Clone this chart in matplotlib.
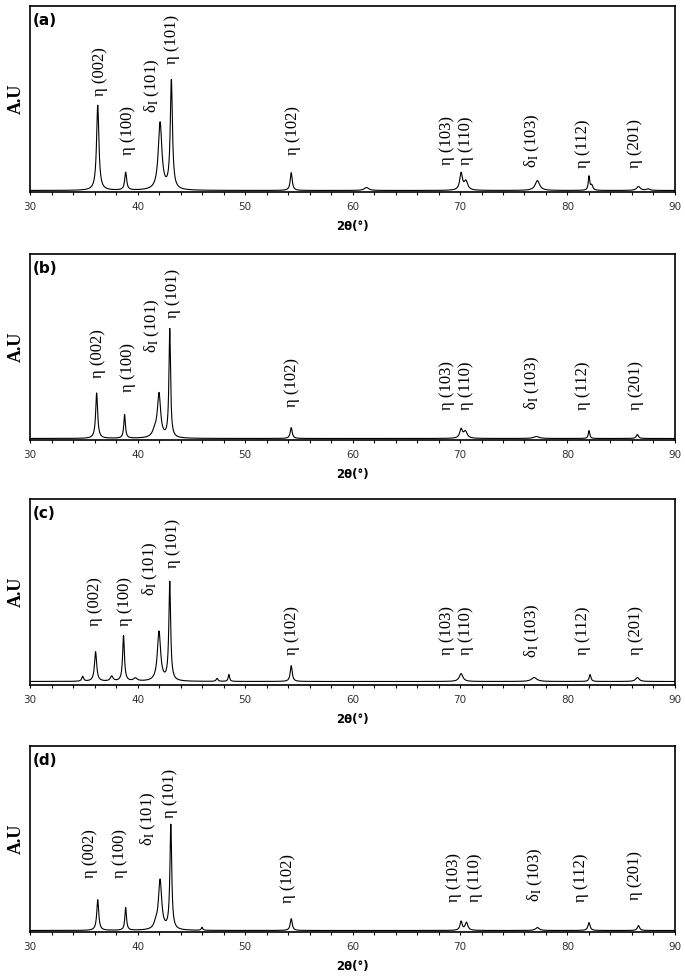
import numpy as np
import matplotlib
matplotlib.use("Agg")
import matplotlib.pyplot as plt

plt.rcParams['mathtext.fontset'] = 'stix'

# peak positions (2theta), heights (a.u.) and half widths
pos_a = [36.3, 38.9, 42.1, 43.15, 54.3, 61.3, 70.1, 70.55, 77.2, 82.0, 82.25, 86.6, 87.5]
hgt_a = [86, 18, 68, 110, 18, 3, 17, 9, 10, 14, 5, 4, 1.5]
wid_a = [0.13, 0.11, 0.2, 0.12, 0.11, 0.25, 0.15, 0.2, 0.25, 0.08, 0.12, 0.2, 0.2]

pos_b = [36.2, 38.8, 41.6, 42.0, 43.0, 54.3, 70.1, 70.5, 77.1, 82.0, 86.5]
hgt_b = [46, 24, 6, 44, 110, 11, 9, 7, 2, 8, 4]
wid_b = [0.11, 0.09, 0.25, 0.18, 0.09, 0.11, 0.15, 0.2, 0.3, 0.08, 0.12]

pos_c = [34.9, 36.1, 37.6, 38.7, 39.8, 42.0, 43.0, 47.4, 48.5, 54.3, 70.1, 76.9, 82.1, 86.5]
hgt_c = [5, 30, 5, 46, 3, 50, 100, 3, 7, 16, 8, 4, 7, 4]
wid_c = [0.1, 0.12, 0.15, 0.1, 0.2, 0.18, 0.1, 0.1, 0.08, 0.11, 0.2, 0.3, 0.1, 0.2]

pos_d = [36.3, 38.9, 41.7, 42.1, 43.1, 46.0, 54.3, 70.1, 70.6, 77.2, 82.0, 86.6]
hgt_d = [31, 23, 5, 50, 106, 3, 12, 9, 8, 3, 8, 5]
wid_d = [0.11, 0.09, 0.2, 0.18, 0.1, 0.08, 0.11, 0.12, 0.15, 0.2, 0.12, 0.12]

background = [1.5, 1.5, 3.5, 1.5]

peak_names = ['η (002)', 'η (100)', r'δ$_{\rm I}$ (101)', 'η (101)',
              'η (102)', 'η (103)', 'η (110)', r'δ$_{\rm I}$ (103)',
              'η (112)', 'η (201)']

lab_x = [
    [36.5, 39.1, 41.4, 43.2, 54.5, 68.8, 70.6, 76.7, 81.4, 86.3],
    [36.3, 39.1, 41.4, 43.3, 54.4, 68.8, 70.6, 76.7, 81.4, 86.4],
    [36.0, 38.8, 41.2, 43.3, 54.4, 68.8, 70.6, 76.7, 81.4, 86.4],
    [35.6, 38.4, 41.0, 43.0, 54.0, 69.4, 71.4, 77.0, 81.3, 86.3],
]
lab_y = [
    [97, 37, 80, 129, 37, 27, 27, 24, 24, 24],
    [63, 48, 88, 123, 33, 30, 30, 30, 30, 30],
    [60, 60, 90, 118, 30, 30, 30, 27, 30, 30],
    [55, 55, 87, 115, 29, 30, 30, 30, 30, 32],
]

panels = ['(a)', '(b)', '(c)', '(d)']
peaks = [(pos_a, hgt_a, wid_a), (pos_b, hgt_b, wid_b), (pos_c, hgt_c, wid_c), (pos_d, hgt_d, wid_d)]

# axes bottoms (figure fraction)
bottoms = [0.8033, 0.5492, 0.2982, 0.0451]

fig = plt.figure(figsize=(6.85, 9.76), dpi=100)
tt = np.linspace(30, 90, 4001)

for i in range(4):
    ax = fig.add_axes([0.0438, bottoms[i], 0.9416, 0.1906])
    p, h, w = peaks[i]
    y = np.full_like(tt, background[i])
    for x0, a, g in zip(p, h, w):
        y += a / (1 + ((tt - x0) / g) ** 2)
    ax.plot(tt, y, color='black', lw=0.8)

    for name, lx, ly in zip(peak_names, lab_x[i], lab_y[i]):
        ax.text(lx, ly, name, rotation=90, ha='center', va='bottom',
                fontsize=12, family='Liberation Serif')

    ax.text(0.005, 0.96, panels[i], transform=ax.transAxes, ha='left', va='top',
            fontsize=11, fontweight='bold', family='DejaVu Sans')

    ax.set_xlim(30, 90)
    ax.set_ylim(0, 188)
    ax.set_yticks([])
    ax.set_xticks(np.arange(30, 91, 10))
    ax.set_xticks(np.arange(30, 91, 2), minor=True)
    ax.tick_params(axis='x', which='both', direction='out', length=2.5, width=0.8,
                   pad=4.5, labelsize=7.5, labelcolor='#333333')
    for s in ax.spines.values():
        s.set_linewidth(1.2)
    ax.set_xlabel(r'2θ(°)', fontsize=8.5, fontweight='bold', labelpad=6)
    ax.set_ylabel('A.U', fontsize=13, fontweight='bold', family='Liberation Serif', labelpad=4)

fig.savefig('out.png', dpi=100)
